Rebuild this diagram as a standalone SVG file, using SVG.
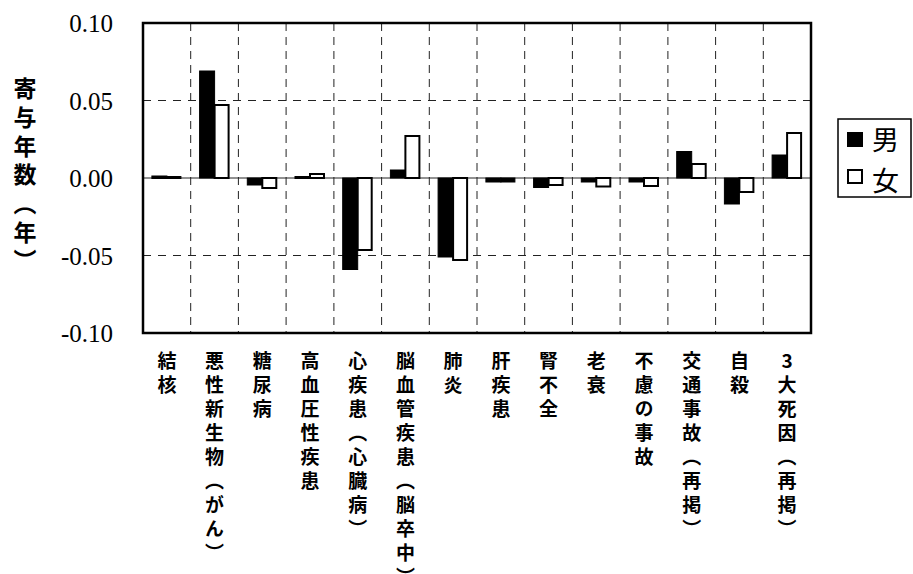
<svg xmlns="http://www.w3.org/2000/svg" width="913" height="574" viewBox="0 0 913 574">
<style>
.tick{font-family:"Times New Roman","Liberation Serif","DejaVu Serif",serif;font-size:25px;fill:#000;text-anchor:end}
.cat{font-family:"Noto Sans CJK JP","Noto Sans",sans-serif;font-size:19px;font-weight:bold;fill:#000;writing-mode:vertical-rl;letter-spacing:5px}
.up{text-orientation:upright}
.ytitle{font-family:"Noto Sans CJK JP","Noto Sans",sans-serif;font-size:23px;font-weight:bold;fill:#000;writing-mode:vertical-rl;letter-spacing:5.7px}
.leg{font-family:"Noto Sans CJK JP","Noto Sans",sans-serif;font-size:27px;fill:#000}
.vg{stroke:#222;stroke-width:1;stroke-dasharray:8 6;fill:none}
.hg{stroke:#222;stroke-width:1;stroke-dasharray:8 7;fill:none}
.m{fill:#000;stroke:#000;stroke-width:1}
.f{fill:#fff;stroke:#000;stroke-width:2}
</style>
<rect width="913" height="574" fill="#fff"/>
<g id="grid">
<line class="hg" x1="143" y1="100.5" x2="811" y2="100.5"/>
<line class="hg" x1="143" y1="255.5" x2="811" y2="255.5"/>
<line class="vg" x1="190.7" y1="23" x2="190.7" y2="333"/>
<line class="vg" x1="238.4" y1="23" x2="238.4" y2="333"/>
<line class="vg" x1="286.1" y1="23" x2="286.1" y2="333"/>
<line class="vg" x1="333.9" y1="23" x2="333.9" y2="333"/>
<line class="vg" x1="381.6" y1="23" x2="381.6" y2="333"/>
<line class="vg" x1="429.3" y1="23" x2="429.3" y2="333"/>
<line class="vg" x1="477" y1="23" x2="477" y2="333"/>
<line class="vg" x1="524.7" y1="23" x2="524.7" y2="333"/>
<line class="vg" x1="572.4" y1="23" x2="572.4" y2="333"/>
<line class="vg" x1="620.1" y1="23" x2="620.1" y2="333"/>
<line class="vg" x1="667.9" y1="23" x2="667.9" y2="333"/>
<line class="vg" x1="715.6" y1="23" x2="715.6" y2="333"/>
<line class="vg" x1="763.3" y1="23" x2="763.3" y2="333"/>
<line x1="143" y1="178" x2="811" y2="178" stroke="#222" stroke-width="1"/>
</g>
<g id="bars">
<rect class="m" x="151.9" y="176" width="15" height="2.5"/>
<rect class="m" x="166.9" y="176.5" width="14" height="2"/>
<rect class="m" x="199.6" y="71" width="15" height="107"/>
<rect class="f" x="214.6" y="105" width="14" height="73"/>
<rect class="m" x="247.3" y="178" width="15" height="7"/>
<rect class="f" x="262.3" y="178" width="14" height="10"/>
<rect class="m" x="295" y="176.5" width="15" height="2"/>
<rect class="f" x="310" y="174" width="14" height="4"/>
<rect class="m" x="342.7" y="178" width="15" height="91.5"/>
<rect class="f" x="357.7" y="178" width="14" height="72"/>
<rect class="m" x="390.4" y="170" width="15" height="8"/>
<rect class="f" x="405.4" y="136" width="14" height="42"/>
<rect class="m" x="438.1" y="178" width="15" height="79"/>
<rect class="f" x="453.1" y="178" width="14" height="82"/>
<rect class="m" x="485.9" y="178" width="15" height="4"/>
<rect class="m" x="500.9" y="178" width="14" height="4"/>
<rect class="m" x="533.6" y="178" width="15" height="9.5"/>
<rect class="f" x="548.6" y="178" width="14" height="7"/>
<rect class="m" x="581.3" y="178" width="15" height="4"/>
<rect class="f" x="596.3" y="178" width="14" height="8.5"/>
<rect class="m" x="629" y="178" width="15" height="4"/>
<rect class="f" x="644" y="178" width="14" height="8"/>
<rect class="m" x="676.7" y="151.5" width="15" height="26.5"/>
<rect class="f" x="691.7" y="164" width="14" height="14"/>
<rect class="m" x="724.4" y="178" width="15" height="26"/>
<rect class="f" x="739.4" y="178" width="14" height="14"/>
<rect class="m" x="772.1" y="155" width="15" height="23"/>
<rect class="f" x="787.1" y="133" width="14" height="45"/>
</g>
<g id="frame">
<rect x="143" y="23" width="668" height="310" fill="none" stroke="#000" stroke-width="2.5"/>
</g>
<g id="yaxis">
<text class="tick" x="113" y="32">0.10</text>
<text class="tick" x="113" y="110">0.05</text>
<text class="tick" x="113" y="187">0.00</text>
<text class="tick" x="113" y="265">-0.05</text>
<text class="tick" x="113" y="342">-0.10</text>
<text class="ytitle" x="25" y="77">寄与年数（年）</text>
</g>
<g id="categories">
<text class="cat" x="166.9" y="351">結核</text>
<text class="cat" x="214.6" y="351">悪性新生物（がん）</text>
<text class="cat" x="262.3" y="351">糖尿病</text>
<text class="cat" x="310" y="351">高血圧性疾患</text>
<text class="cat" x="357.7" y="351">心疾患（心臓病）</text>
<text class="cat" x="405.4" y="351">脳血管疾患（脳卒中）</text>
<text class="cat" x="453.1" y="351">肺炎</text>
<text class="cat" x="500.9" y="351">肝疾患</text>
<text class="cat" x="548.6" y="351">腎不全</text>
<text class="cat" x="596.3" y="351">老衰</text>
<text class="cat" x="644" y="351">不慮の事故</text>
<text class="cat" x="691.7" y="351">交通事故（再掲）</text>
<text class="cat" x="739.4" y="351">自殺</text>
<text class="cat up" x="787.1" y="351">3大死因（再掲）</text>
</g>
<g id="legend">
<rect x="838" y="119" width="73" height="78" fill="#fff" stroke="#000" stroke-width="1.5"/>
<rect x="847" y="132" width="16" height="15" fill="#000"/>
<rect x="848" y="170" width="14" height="13" fill="#fff" stroke="#000" stroke-width="2"/>
<text class="leg" x="872" y="150">男</text>
<text class="leg" x="872" y="191">女</text>
</g>
</svg>
